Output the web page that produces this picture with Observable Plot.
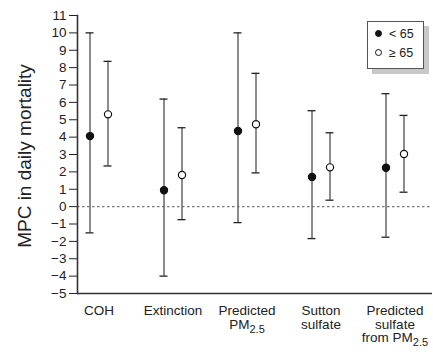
<!DOCTYPE html>
<html>
<head>
<meta charset="utf-8">
<script src="https://cdn.jsdelivr.net/npm/d3@7"></script>
<script src="https://cdn.jsdelivr.net/npm/@observablehq/plot@0.6"></script>
<style>
  body { margin: 0; background: #fff; }
  #wrap { position: relative; width: 433px; height: 356px; font-family: "Liberation Sans", Arial, sans-serif; color: #222; }
  #ylabel { position: absolute; left: 25px; top: 156px; transform: translate(-50%, -50%) rotate(-90deg); white-space: nowrap; font-size: 19px; color: #222; }
  #legend { position: absolute; left: 367px; top: 21px; width: 55px; height: 46px; border: 1px solid #555; background: #fff; box-shadow: 5px 5px 0 #c8c8c8; font-size: 12.5px; }
  .row { position: absolute; left: 0; height: 14px; line-height: 14px; }
  .sw { position: absolute; left: 7px; top: 3px; width: 7px; height: 7px; border-radius: 50%; box-sizing: border-box; border: 1.2px solid #111; }
  .lab { position: absolute; left: 21px; top: 0; white-space: nowrap; }
</style>
</head>
<body>
<div id="wrap">
  <div id="chart"></div>
  <div id="ylabel">MPC in daily mortality</div>
  <div id="legend">
    <div class="row" style="top:5px"><span class="sw" style="background:#111"></span><span class="lab">&lt; 65</span></div>
    <div class="row" style="top:24px"><span class="sw" style="background:#fff"></span><span class="lab">≥ 65</span></div>
  </div>
</div>
<script>
const categories = ["COH", "Extinction", "Predicted\nPM2.5", "Sutton\nsulfate", "Predicted\nsulfate\nfrom PM2.5"];
const groups = ["< 65", "≥ 65"];
const estUnder65 = [4.06, 0.94, 4.35, 1.71, 2.24];
const lowUnder65 = [-1.51, -4.0, -0.92, -1.84, -1.76];
const highUnder65 = [10.0, 6.19, 10.0, 5.52, 6.5];
const est65plus = [5.31, 1.82, 4.74, 2.26, 3.03];
const low65plus = [2.34, -0.75, 1.94, 0.37, 0.83];
const high65plus = [8.36, 4.54, 7.67, 4.25, 5.25];
const yTicks = [-5, -4, -3, -2, -1, 0, 1, 2, 3, 4, 5, 6, 7, 8, 9, 10, 11];

const series = [
  {group: groups[0], est: estUnder65, low: lowUnder65, high: highUnder65, fill: "#111", dx: -9},
  {group: groups[1], est: est65plus, low: low65plus, high: high65plus, fill: "#fff", dx: 9}
];

const marks = [
  Plot.ruleY([0], {stroke: "#777", strokeWidth: 1.3, strokeDasharray: "2.5,2.5"})
];
for (const s of series) {
  const rows = categories.map((c, i) => ({category: c, group: s.group, est: s.est[i], low: s.low[i], high: s.high[i]}));
  marks.push(
    Plot.ruleX(rows, {x: "category", y1: "low", y2: "high", dx: s.dx, stroke: "#666", strokeWidth: 1.5}),
    Plot.tickY(rows, {x: "category", y: "low", dx: s.dx, insetLeft: 14.5, insetRight: 14.5, stroke: "#222", strokeWidth: 1.3}),
    Plot.tickY(rows, {x: "category", y: "high", dx: s.dx, insetLeft: 14.5, insetRight: 14.5, stroke: "#222", strokeWidth: 1.3}),
    Plot.dot(rows, {x: "category", y: "est", dx: s.dx, r: 3.6, fill: s.fill, stroke: "#111", strokeWidth: 1.2})
  );
}
marks.push(
  Plot.ruleY([-5], {stroke: "#333", strokeWidth: 1.6}),
  Plot.frame({anchor: "left", stroke: "#333", strokeWidth: 1.6})
);

const chart = Plot.plot({
  width: 433,
  height: 356,
  marginLeft: 77,
  marginRight: 1,
  marginTop: 15,
  marginBottom: 63,
  style: {fontFamily: "'Liberation Sans', Arial, sans-serif", fontSize: "13.5px", color: "#222", background: "#fff"},
  x: {type: "band", domain: categories, range: [61, 431], paddingInner: 0.5, paddingOuter: 0.25, tickSize: 0, tickPadding: 12, label: null},
  y: {domain: [-5, 11], ticks: yTicks, tickSize: 8, tickPadding: 3, label: null},
  marks
});
document.getElementById("chart").appendChild(chart);

// y tick labels: narrower font
chart.querySelectorAll("g[aria-label='y-axis tick label'] text, g[aria-label='y-axis'] text").forEach(t => {
  t.setAttribute("font-family", "'Liberation Sans Narrow', 'Liberation Sans', Arial, sans-serif");
  t.style.fontFamily = "'Liberation Sans Narrow', 'Liberation Sans', Arial, sans-serif";
  t.style.fontSize = "13.5px";
});
chart.querySelectorAll("g[aria-label='y-axis tick label'], g[aria-label='y-axis']").forEach(g => {
  g.setAttribute("font-size", "13.5px");
});

// subscripts for PM2.5
const ns = "http://www.w3.org/2000/svg";
chart.querySelectorAll("text, tspan").forEach(el => {
  if (el.children.length === 0 && el.textContent.includes("PM2.5")) {
    const txt = el.textContent;
    const idx = txt.indexOf("2.5");
    el.textContent = txt.slice(0, idx);
    const sub = document.createElementNS(ns, "tspan");
    sub.setAttribute("dy", "4");
    sub.setAttribute("font-size", "11px");
    sub.textContent = "2.5";
    el.appendChild(sub);
  }
});
</script>
</body>
</html>
